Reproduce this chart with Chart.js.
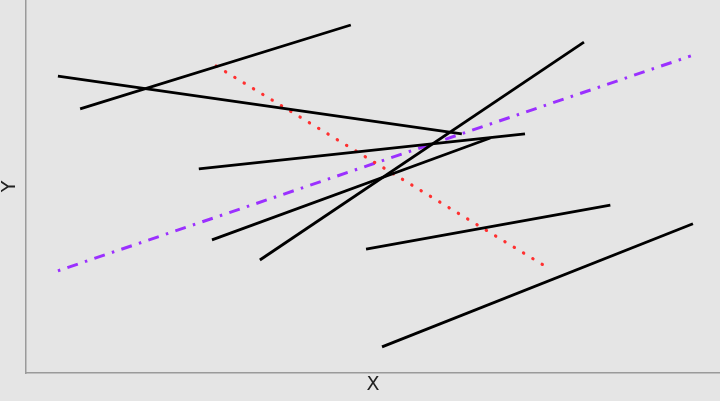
<!DOCTYPE html>
<html>
<head>
<meta charset="utf-8">
<script src="https://cdn.jsdelivr.net/npm/chart.js@4.4.1/dist/chart.umd.min.js"></script>
<style>
  html, body { margin: 0; padding: 0; background: #e5e5e5; }
  #wrap { width: 720px; height: 401px; }
</style>
</head>
<body>
<div id="wrap"><canvas id="segChart" width="720" height="401"></canvas></div>
<script>
// segment endpoints (data units, both axes 0..10)
const xStart = [0.78, 0.46, 2.49, 2.68, 3.37, 4.90, 5.13, 2.74, 0.46];
const yStart = [7.08, 7.96, 5.47, 3.57, 3.03, 3.32, 0.70, 8.23, 2.74];
const xEnd   = [4.68, 6.28, 7.19, 6.69, 8.04, 8.42, 9.61, 7.45, 9.58];
const yEnd   = [9.33, 6.41, 6.41, 6.30, 8.87, 4.50, 4.00, 2.90, 8.50];
// line style per segment: solid, dotted, dashdot
const segType = ["solid", "solid", "solid", "solid", "solid", "solid", "solid", "dotted", "dashdot"];

const styles = {
    solid:   { color: "#000000", width: 2.8, dash: [], cap: 'butt' },
    dotted:  { color: "#ff3030", width: 3.2, dash: [0.3, 10.6], cap: 'round' },
    dashdot: { color: "#9b30ff", width: 3, dash: [2.5, 7.5, 11, 7.5], cap: 'butt' }
};

const datasets = xStart.map((x0, i) => {
    const s = styles[segType[i]];
    return {
        data: [{ x: x0, y: yStart[i] }, { x: xEnd[i], y: yEnd[i] }],
        showLine: true,
        borderColor: s.color,
        borderWidth: s.width,
        borderDash: s.dash,
        borderCapStyle: s.cap,
        pointRadius: 0,
        fill: false
    };
});

const ctx = document.getElementById('segChart').getContext('2d');

new Chart(ctx, {
    type: 'scatter',
    data: { datasets: datasets },
    options: {
        responsive: false,
        animation: false,
        layout: { padding: 0 },
        plugins: {
            legend: { display: false },
            tooltip: { enabled: false }
        },
        scales: {
            x: {
                type: 'linear',
                min: 0,
                max: 10,
                ticks: { display: false },
                grid: { display: false, drawTicks: false },
                border: { display: true, color: '#9a9a9a', width: 1.5 },
                title: {
                    display: true,
                    text: 'X',
                    color: '#222222',
                    font: { family: 'DejaVu Sans', size: 19, lineHeight: 1 },
                    padding: { top: 0, bottom: 6 }
                },
                afterFit: scale => { scale.height = 28; }
            },
            y: {
                type: 'linear',
                min: 0,
                max: 10,
                ticks: { display: false },
                grid: { display: false, drawTicks: false },
                border: { display: true, color: '#9a9a9a', width: 1.5 },
                title: {
                    display: true,
                    text: 'Y',
                    color: '#222222',
                    font: { family: 'DejaVu Sans', size: 19, lineHeight: 1 },
                    padding: { top: 1, bottom: 0 }
                },
                afterFit: scale => { scale.width = 26; }
            }
        }
    }
});
</script>
</body>
</html>
